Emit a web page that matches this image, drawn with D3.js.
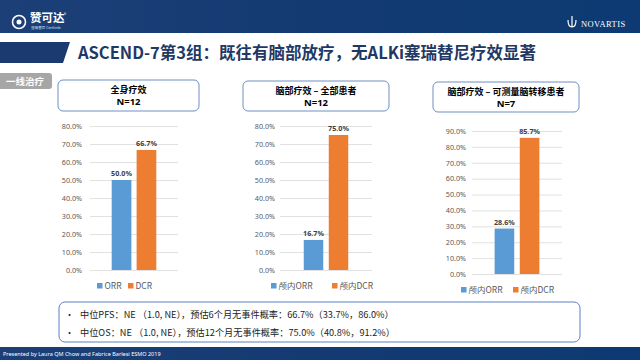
<!DOCTYPE html>
<html><head><meta charset="utf-8">
<script src="https://cdn.jsdelivr.net/npm/d3@7"></script>
<style>
html,body{margin:0;padding:0;background:#fff;}
svg{display:block;font-family:"Noto Sans CJK SC","Noto Sans",sans-serif;}
</style></head>
<body>
<svg id="c" width="640" height="360"></svg>
<script>
// ---- data ----
const titleText = "ASCEND-7第3组：既往有脑部放疗，无ALKi塞瑞替尼疗效显著";
const sideTag = "一线治疗";
const panelTitles = ["全身疗效", "脑部疗效 – 全部患者", "脑部疗效 – 可测量脑转移患者"];
const panelN = ["N=12", "N=12", "N=7"];
const seriesNames = [["ORR", "DCR"], ["颅内ORR", "颅内DCR"], ["颅内ORR", "颅内DCR"]];
const orrValues = [50.0, 16.7, 28.6];
const dcrValues = [66.7, 75.0, 85.7];
const yMaxValues = [80, 80, 90];
const notes = [
  "中位PFS：NE （1.0, NE），预估6个月无事件概率：66.7%（33.7%，86.0%）",
  "中位OS：NE （1.0, NE），预估12个月无事件概率：75.0%（40.8%，91.2%）"
];
const footerText = "Presented by Laura QM Chow and  Fabrice Barlesi ESMO 2019";

// ---- layout (positions only) ----
const panels = [
  {box:[58,80,141,31], x0:90, x1:178, yTop:126, yBot:270, pad:8, pIn:0.21, pOut:0.87, legY:286, legX:[97,128]},
  {box:[243,81,146,30], x0:280, x1:372, yTop:126, yBot:270, pad:5, pIn:0.22, pOut:0.95, legY:286, legX:[271,332]},
  {box:[433,82,146,30], x0:472, x1:562, yTop:131, yBot:274, pad:6, pIn:0.22, pOut:0.9, legY:290, legX:[461,513]}
];
const colors = ["#5b9bd5", "#ed7d31"];

const svg = d3.select("#c");
const defs = svg.append("defs");
const g1 = defs.append("linearGradient").attr("id","hdr").attr("x1","0").attr("x2","1");
g1.append("stop").attr("offset","0").attr("stop-color","#1c3f78");
g1.append("stop").attr("offset","0.5").attr("stop-color","#143a72");
g1.append("stop").attr("offset","1").attr("stop-color","#0d3a73");

// header
svg.append("rect").attr("x",0).attr("y",0).attr("width",640).attr("height",33).attr("fill","url(#hdr)");
// logo
const lg = svg.append("g");
lg.append("circle").attr("cx",19).attr("cy",22).attr("r",6.5).attr("fill","none").attr("stroke","#fff").attr("stroke-width",1.6);
lg.append("circle").attr("cx",19).attr("cy",22).attr("r",2.5).attr("fill","#fff");
lg.append("text").attr("x",30).attr("y",22).attr("fill","#fff").attr("font-size",11.5).attr("font-weight","bold").text("赞可达");
lg.append("text").attr("x",64).attr("y",16).attr("fill","#fff").attr("font-size",4).text("®");
lg.append("text").attr("x",31).attr("y",29).attr("fill","#dfe6f2").attr("font-size",3.6).text("塞瑞替尼 Ceritinib");
// novartis
svg.append("path").attr("d","M568,20 Q568,27 572,27 Q576,27 576,20 M572,27 L572,16").attr("fill","none").attr("stroke","#fff").attr("stroke-width",1.2);
svg.append("text").attr("x",581).attr("y",27).attr("fill","#fff").attr("font-size",8.5).attr("font-family","Liberation Serif,serif").attr("letter-spacing",0.4).text("NOVARTIS");

// title bar
svg.append("path").attr("d","M0,42 L70,42 L63,63 L0,63 Z").attr("fill","#1b3a6f");
svg.append("text").attr("x",78).attr("y",59).attr("fill","#1f3864").attr("font-size",16.5).attr("font-weight","bold").text(titleText);

// side tag
svg.append("rect").attr("x",-5).attr("y",73).attr("width",57).attr("height",16).attr("rx",3).attr("fill","#a6a6a6");
svg.append("text").attr("x",25).attr("y",85).attr("text-anchor","middle").attr("fill","#fff").attr("font-size",9.5).attr("font-weight","bold").text(sideTag);

// panels
panels.forEach((p,i) => {
  const [bx,by,bw,bh] = p.box;
  svg.append("rect").attr("x",bx).attr("y",by).attr("width",bw).attr("height",bh).attr("rx",5)
     .attr("fill","#fff").attr("stroke","#6f8fc6").attr("stroke-width",1);
  svg.append("text").attr("x",bx+bw/2).attr("y",by+12.5).attr("text-anchor","middle").attr("font-size",9).attr("font-weight","bold").attr("fill","#000").text(panelTitles[i]);
  svg.append("text").attr("x",bx+bw/2).attr("y",by+25).attr("text-anchor","middle").attr("font-size",9.5).attr("font-weight","bold").attr("fill","#000").attr("font-family","Noto Sans, sans-serif").text(panelN[i]);

  const y = d3.scaleLinear().domain([0, yMaxValues[i]]).range([p.yBot, p.yTop]);
  const x = d3.scaleBand().domain(seriesNames[i]).range([p.x0, p.x1]).paddingInner(p.pIn).paddingOuter(p.pOut);
  const ticks = d3.range(0, yMaxValues[i] + 0.001, 10);
  const ax = svg.append("g").attr("transform",`translate(${p.x0},0)`)
    .call(d3.axisLeft(y).tickValues(ticks).tickFormat(d => d.toFixed(1) + "%").tickSizeInner(-(p.x1 - p.x0)).tickSizeOuter(0).tickPadding(p.pad));
  ax.select(".domain").remove();
  ax.selectAll(".tick line").attr("stroke","#d9d9d9").attr("stroke-width",0.8);
  ax.selectAll(".tick text").attr("fill","#595959").attr("font-size",7.2).attr("font-family","Noto Sans, sans-serif");

  const vals = [orrValues[i], dcrValues[i]];
  svg.selectAll(null).data(vals).enter().append("rect")
    .attr("x",(d,j) => x(seriesNames[i][j])).attr("width",x.bandwidth())
    .attr("y",d => y(d)).attr("height",d => y(0) - y(d))
    .attr("fill",(d,j) => colors[j]);
  svg.selectAll(null).data(vals).enter().append("text")
    .attr("x",(d,j) => x(seriesNames[i][j]) + x.bandwidth()/2).attr("y",d => y(d) - 4)
    .attr("text-anchor","middle").attr("font-size",7.2).attr("font-weight","bold").attr("fill","#404040")
    .attr("font-family","Noto Sans, sans-serif")
    .text(d => d.toFixed(1) + "%");

  seriesNames[i].forEach((s,j) => {
    svg.append("rect").attr("x",p.legX[j]).attr("y",p.legY-3).attr("width",5.5).attr("height",5.5).attr("fill",colors[j]);
    svg.append("text").attr("x",p.legX[j]+7.5).attr("y",p.legY+3).attr("font-size",8.5).attr("fill","#595959").text(s);
  });
});

// notes box
svg.append("rect").attr("x",59).attr("y",302).attr("width",521).attr("height",40).attr("rx",6)
  .attr("fill","#fff").attr("stroke","#5b7fc4").attr("stroke-width",1);
notes.forEach((t,k) => {
  const yy = 318 + k*17.5;
  svg.append("text").attr("x",65).attr("y",yy).attr("font-size",9).attr("fill","#222").text("•");
  svg.append("text").attr("x",80).attr("y",yy).attr("font-size",9.2).attr("fill","#222").text(t);
});

// footer
svg.append("rect").attr("x",0).attr("y",347).attr("width",640).attr("height",13).attr("fill","url(#hdr)");
svg.append("text").attr("x",3).attr("y",355.5).attr("fill","#fff").attr("font-size",5.5).attr("font-family","Noto Sans, sans-serif").text(footerText);
</script>
</body></html>
